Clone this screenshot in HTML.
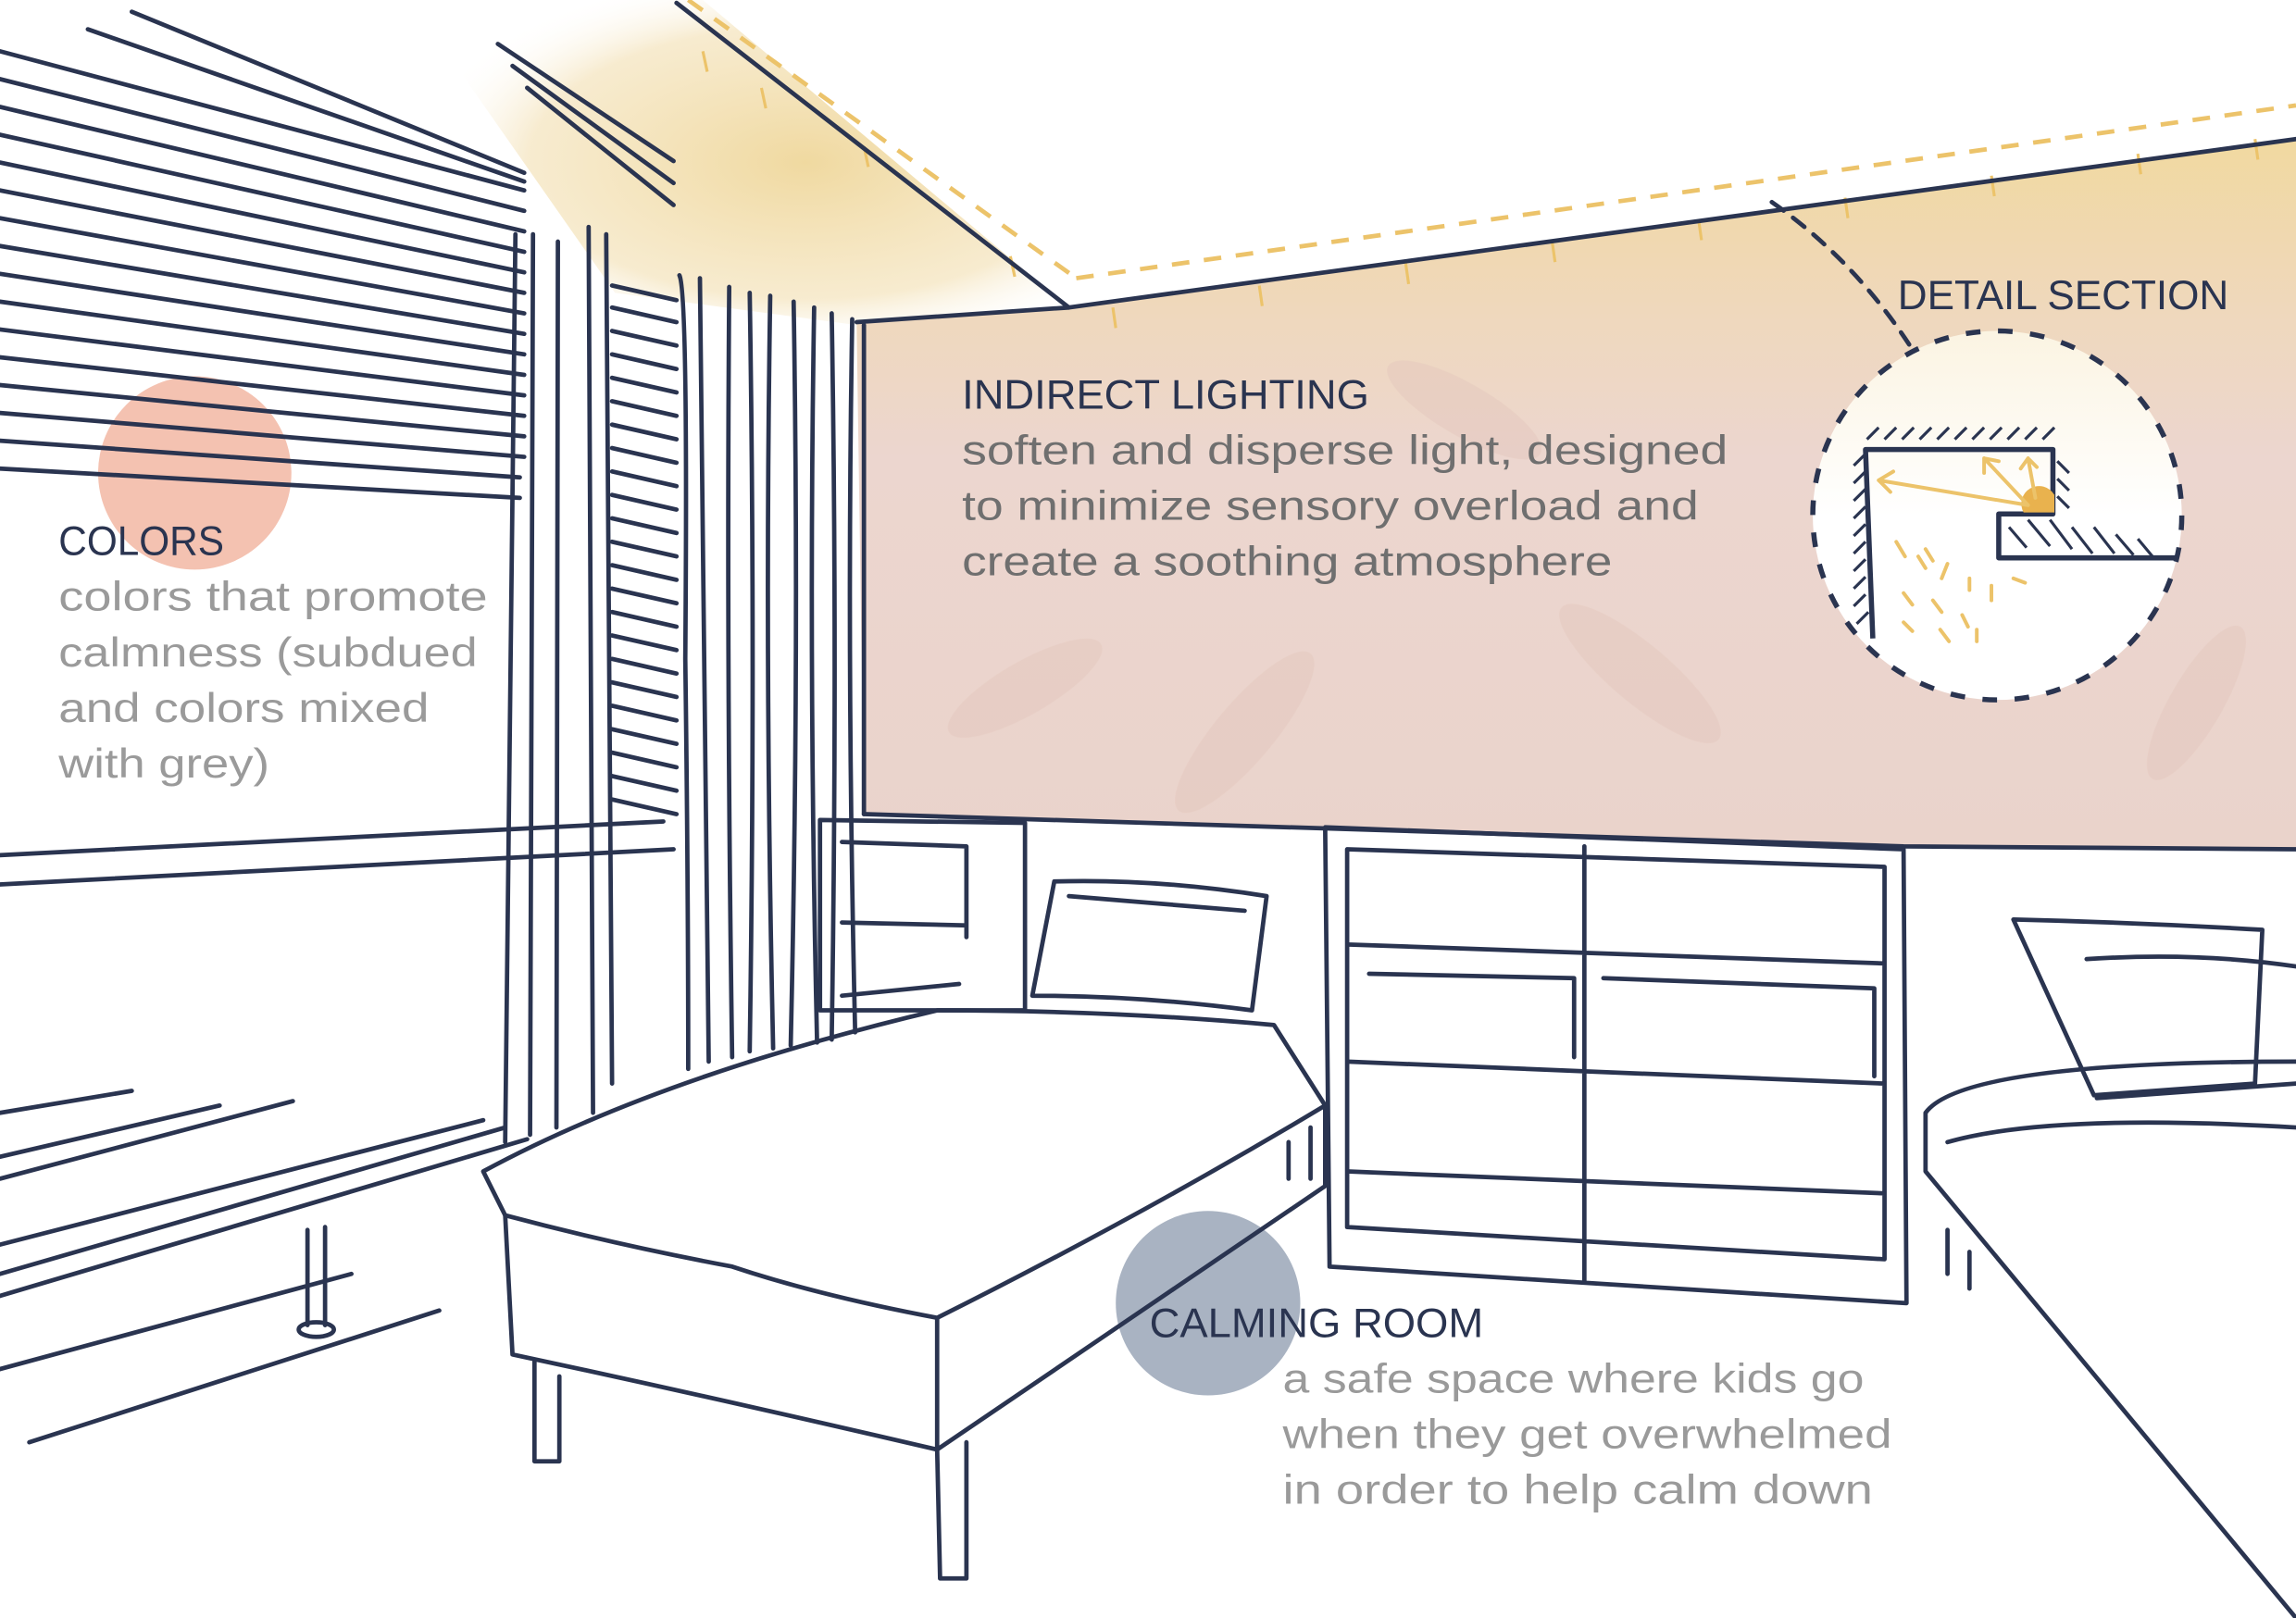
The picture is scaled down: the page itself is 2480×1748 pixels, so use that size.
<!DOCTYPE html>
<html><head><meta charset="utf-8"><style>
html,body{margin:0;padding:0;background:#fff;}
svg{display:block;}
text{font-family:"Liberation Sans",sans-serif;}
</style></head><body>
<svg width="2480" height="1748" viewBox="0 0 1568 1105" preserveAspectRatio="none" xmlns="http://www.w3.org/2000/svg">
<defs>
<linearGradient id="wall" x1="0" y1="0" x2="0" y2="1">
<stop offset="0" stop-color="#f1d9a0"/>
<stop offset="0.25" stop-color="#efd8bd"/>
<stop offset="0.45" stop-color="#ecd6cf"/>
<stop offset="1" stop-color="#ead3cb"/>
</linearGradient>
<radialGradient id="ceil" cx="0.6" cy="0.5" r="0.6">
<stop offset="0" stop-color="#f0d9a0"/>
<stop offset="0.7" stop-color="#f4e3bb" stop-opacity="0.7"/>
<stop offset="1" stop-color="#fff" stop-opacity="0"/>
</radialGradient>
<linearGradient id="circ" x1="0" y1="0" x2="0" y2="1">
<stop offset="0" stop-color="#fbf4e2"/>
<stop offset="0.5" stop-color="#fff"/>
<stop offset="1" stop-color="#fff"/>
</linearGradient>
</defs>

<polygon points="280,0 480,0 730,210 585,222 420,200" fill="url(#ceil)"/>
<polygon points="585,220 730,210 1568,95 1568,580 1300,578 590,556" fill="url(#wall)"/>
<g fill="#e3c6bb" opacity="0.45">
<ellipse cx="700" cy="470" rx="60" ry="18" transform="rotate(-30 700 470)"/>
<ellipse cx="850" cy="500" rx="70" ry="20" transform="rotate(-50 850 500)"/>
<ellipse cx="1120" cy="460" rx="70" ry="20" transform="rotate(40 1120 460)"/>
<ellipse cx="1500" cy="480" rx="60" ry="18" transform="rotate(-60 1500 480)"/>
<ellipse cx="1000" cy="280" rx="60" ry="18" transform="rotate(30 1000 280)"/>
</g>

<circle cx="133" cy="323" r="66" fill="#f0a890" opacity="0.7"/>
<circle cx="825" cy="890" r="63" fill="#8c99ae" opacity="0.75"/>

<g stroke="#ecc36a" stroke-width="3" fill="none" stroke-dasharray="12 10">
<line x1="470" y1="0" x2="735" y2="190"/>
<line x1="735" y1="190" x2="1568" y2="72"/>
</g>
<g stroke="#ecc36a" stroke-width="2" fill="none">
<path d="M480 35 l3 14 M590 100 l3 14 M690 175 l3 14 M520 60 l3 14 M760 210 l2 14 M860 195 l2 14 M960 180 l2 14 M1060 165 l2 14 M1160 150 l2 14 M1260 135 l2 14 M1360 120 l2 14 M1460 105 l2 14 M1540 95 l2 14"/>
</g>

<g stroke="#2a3450" stroke-width="3" fill="none" stroke-linecap="round" stroke-linejoin="round">
<polyline points="585,220 730,210 1568,95"/>
<line x1="462" y1="2" x2="730" y2="210"/>
<line x1="590" y1="222" x2="590" y2="556"/>
<polyline points="590,556 1300,578 1568,580"/>
<!-- blinds -->
<path d="M90 8 L358 118 M60 20 L358 124 M0 35 L358 130 M0 54 L358 144 M0 73 L358 158 M0 92 L358 172 M0 111 L358 186 M0 130 L358 200 M0 149 L358 214 M0 168 L358 228 M0 187 L358 242 M0 206 L358 256 M0 225 L358 270 M0 244 L358 284 M0 263 L358 298 M0 282 L358 312 M0 301 L355 326 M0 320 L355 340"/>
<path d="M340 30 L460 110 M350 45 L460 125 M360 60 L460 140"/>
<!-- frame verticals -->
<path d="M352 160 L345 780 M364 160 L362 775 M381 165 L380 770 M402 155 L405 760 M414 160 L418 740"/>
<path d="M418 195 L462 205 M418 210 L462 220 M418 226 L462 236 M418 242 L462 252 M418 258 L462 268 M418 274 L462 284 M418 290 L462 300 M418 306 L462 316 M418 322 L462 332 M418 338 L462 348 M418 354 L462 364 M418 370 L462 380 M418 386 L462 396 M418 402 L462 412 M418 418 L462 428 M418 434 L462 444 M418 450 L462 460 M418 466 L462 476 M418 482 L462 492 M418 498 L462 508 M418 514 L462 524 M418 530 L462 540 M418 546 L462 556"/>
<path d="M0 584 L453 561 M0 604 L460 580"/>
<!-- curtains -->
<path d="M464 188 Q470 200 468 450 Q470 600 470 730 M478 190 L484 725 M498 196 Q496 450 500 722 M512 200 Q516 450 512 718 M526 202 Q522 450 528 716 M542 206 Q546 450 540 714 M556 210 Q552 450 558 712 M568 214 Q572 450 568 710 M582 218 Q578 450 584 705"/>
<!-- floor lines left -->
<path d="M0 885 L360 778 M0 870 L345 770 M0 850 L330 765 M0 805 L200 752 M0 790 L150 755 M0 760 L90 745 M0 935 L240 870 M20 985 L300 895 M210 840 L210 905 M222 838 L222 905"/>
<ellipse cx="216" cy="908" rx="12" ry="5"/>
<!-- headboard shelf -->
<path d="M560 560 L700 562 L700 690 L560 690 Z M575 575 L660 578 L660 640 M575 630 L660 632 M575 680 L655 672"/>
<path d="M720 602 Q790 600 865 612 L855 690 Q780 680 705 680 Z M730 612 L850 622"/>
<!-- bed -->
<path d="M330 800 Q450 735 640 690 Q760 690 870 700 L905 755 Q780 830 640 900 Q560 885 500 865 Q420 850 345 830 Z"/>
<path d="M345 830 L350 925 Q490 955 640 990 L640 900 M640 990 L905 810 L905 755"/>
<path d="M365 930 L365 998 L382 998 L382 940 M640 990 L642 1078 L660 1078 L660 985 M880 780 L880 805 M895 770 L895 805"/>
<!-- bookshelf -->
<path d="M905 565 L1300 580 L1302 890 L908 865 Z M1082 578 L1082 875 M920 580 L1287 592 L1287 860 L920 838 Z M920 645 L1287 658 M920 725 L1287 740 M920 800 L1287 815 M935 665 L1075 668 L1075 722 M1095 668 L1280 675 L1280 735"/>
<!-- right bed -->
<path d="M1375 628 Q1460 630 1545 635 L1540 740 L1430 748 Z M1425 655 Q1500 650 1568 660 M1432 750 L1568 740"/>
<path d="M1315 760 Q1340 725 1568 725 M1315 760 L1315 800 L1568 1105 M1330 780 Q1400 760 1568 770 M1330 840 L1330 870 M1345 855 L1345 880"/>
<path d="M1210 138 Q1270 180 1310 245" stroke-dasharray="10 8"/>
</g>

<circle cx="1364" cy="352" r="126" fill="url(#circ)"/>
<circle cx="1364" cy="352" r="126" fill="none" stroke="#2a3450" stroke-width="3.5" stroke-dasharray="10 12"/>
<g stroke="#2a3450" stroke-width="3.5" fill="none" stroke-linejoin="round">
<polyline points="1279,436 1274,307 1402,307 1402,351 1365,351 1365,381 1486,381"/>
</g>
<g stroke="#2a3450" stroke-width="2" fill="none">
<path d="M1275 300 l8 -8 M1287 300 l8 -8 M1299 300 l8 -8 M1311 300 l8 -8 M1323 300 l8 -8 M1335 300 l8 -8 M1347 300 l8 -8 M1359 300 l8 -8 M1371 300 l8 -8 M1383 300 l8 -8 M1395 300 l8 -8
M1266 318 l8 -8 M1266 330 l8 -8 M1266 342 l8 -8 M1266 354 l8 -8 M1266 366 l8 -8 M1266 378 l8 -8 M1266 390 l8 -8 M1266 402 l8 -8 M1266 414 l8 -8 M1268 426 l8 -8
M1405 315 l8 8 M1405 327 l8 8 M1405 339 l8 8 M1372 360 l12 14 M1385 355 l15 18 M1400 355 l15 20 M1415 360 l14 18 M1430 360 l14 18 M1445 365 l12 14 M1460 368 l10 12"/>
</g>
<path d="M1382 350 A12 12 0 0 1 1403 338 L1403 350 Z" fill="#e9b24e"/>
<g stroke="#ecc36a" stroke-width="2.5" fill="none" stroke-linecap="round">
<path d="M1385 345 L1283 328 M1283 328 l10 -6 M1283 328 l8 8 M1385 345 L1355 313 M1355 313 l0 10 M1355 313 l10 2 M1390 340 L1385 313 M1385 313 l-5 7 M1385 313 l6 6"/>
<path d="M1295 370 l6 10 M1310 380 l5 8 M1330 385 l-4 10 M1345 395 l0 8 M1300 405 l6 8 M1320 410 l6 8 M1340 420 l4 8 M1360 400 l0 10 M1375 395 l8 3 M1300 425 l6 6 M1325 430 l6 8 M1350 430 l0 8 M1315 375 l5 8"/>
</g>

<g font-size="28">
<text x="657" y="279" fill="#2a3450" textLength="278" lengthAdjust="spacingAndGlyphs">INDIRECT LIGHTING</text>
<text x="657" y="317" fill="#6f6f6f" textLength="523" lengthAdjust="spacingAndGlyphs">soften and disperse light, designed</text>
<text x="657" y="355" fill="#6f6f6f" textLength="503" lengthAdjust="spacingAndGlyphs">to minimize sensory overload and</text>
<text x="657" y="393" fill="#6f6f6f" textLength="444" lengthAdjust="spacingAndGlyphs">create a soothing atmosphere</text>
<text x="1296" y="211" fill="#2a3450" textLength="226" lengthAdjust="spacingAndGlyphs">DETAIL SECTION</text>
<text x="40" y="379" fill="#2a3450" textLength="113" lengthAdjust="spacingAndGlyphs">COLORS</text>
<text x="40" y="417" fill="#9a9a9a" textLength="293" lengthAdjust="spacingAndGlyphs">colors that promote</text>
<text x="40" y="455" fill="#9a9a9a" textLength="286" lengthAdjust="spacingAndGlyphs">calmness (subdued</text>
<text x="40" y="493" fill="#9a9a9a" textLength="253" lengthAdjust="spacingAndGlyphs">and colors mixed</text>
<text x="40" y="531" fill="#9a9a9a" textLength="144" lengthAdjust="spacingAndGlyphs">with grey)</text>
<text x="785" y="913" fill="#2a3450" textLength="228" lengthAdjust="spacingAndGlyphs">CALMING ROOM</text>
<text x="876" y="951" fill="#9a9a9a" textLength="397" lengthAdjust="spacingAndGlyphs">a safe space where kids go</text>
<text x="876" y="989" fill="#9a9a9a" textLength="416" lengthAdjust="spacingAndGlyphs">when they get overwhelmed</text>
<text x="876" y="1027" fill="#9a9a9a" textLength="403" lengthAdjust="spacingAndGlyphs">in order to help calm down</text>
</g>
</svg>
</body></html>
